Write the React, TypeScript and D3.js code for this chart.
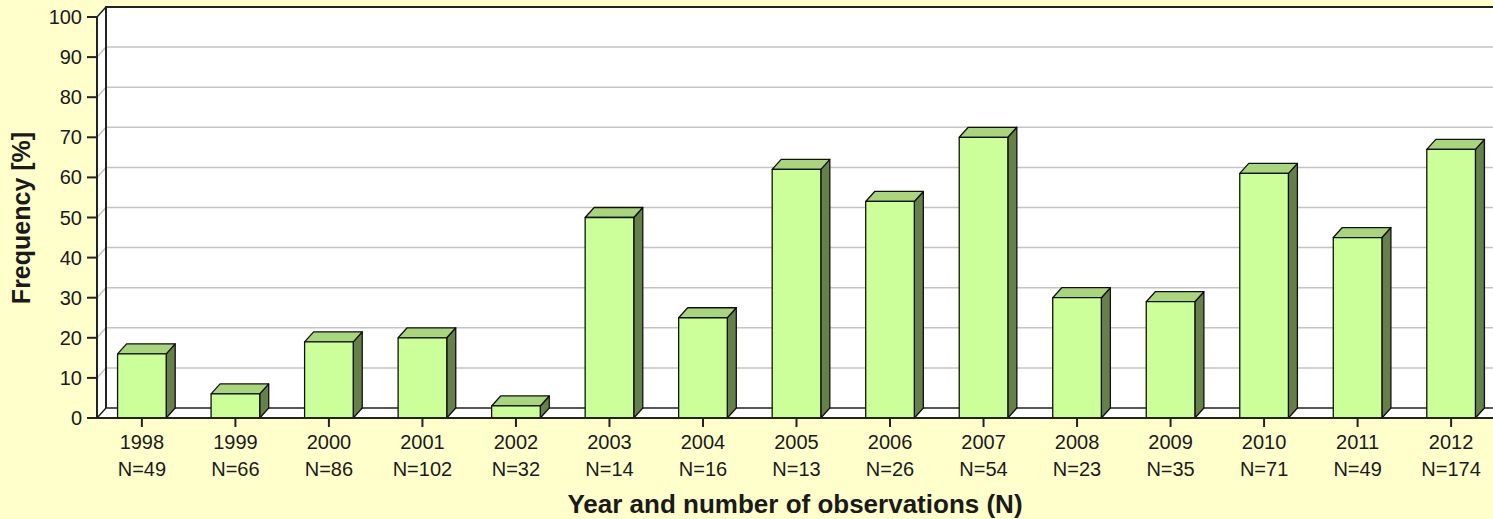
import React, { useEffect, useRef } from "react";
import * as d3 from "d3";

const years = ["1998", "1999", "2000", "2001", "2002", "2003", "2004", "2005", "2006", "2007", "2008", "2009", "2010", "2011", "2012"];
const counts = [49, 66, 86, 102, 32, 14, 16, 13, 26, 54, 23, 35, 71, 49, 174];
const frequency = [16, 6, 19, 20, 3, 50, 25, 62, 54, 70, 30, 29, 61, 45, 67];
const yTicks = [0, 10, 20, 30, 40, 50, 60, 70, 80, 90, 100];

const App = () => {
  const ref = useRef<SVGSVGElement>(null);
  const width = 1493;
  const height = 519;
  const margin = { left: 97, right: -3, top: 17, bottom: 101 };
  const dx = 9;
  const dy = 10;

  useEffect(() => {
    const svg = d3.select(ref.current);
    svg.selectAll("*").remove();

    const x = d3
      .scaleBand()
      .domain(years)
      .range([margin.left, width - margin.right])
      .paddingInner(0.48)
      .paddingOuter(0.22);

    const y = d3
      .scaleLinear()
      .domain([0, 100])
      .range([height - margin.bottom, margin.top]);

    const y0 = y(0);
    const xl = margin.left;
    const xr = width + 20;

    svg.append("rect").attr("width", width).attr("height", height).attr("fill", "#ffffcc");

    // back wall
    svg
      .append("rect")
      .attr("x", xl + dx)
      .attr("y", y(100) - dy)
      .attr("width", xr - xl - dx)
      .attr("height", y0 - y(100))
      .attr("fill", "#fff");

    // left wall
    svg
      .append("path")
      .attr("d", `M${xl},${y(100)}L${xl + dx},${y(100) - dy}L${xl + dx},${y0 - dy}L${xl},${y0}Z`)
      .attr("fill", "#fff")
      .attr("stroke", "none");

    // gridlines
    const grid = svg.append("g").attr("stroke", "#c4c4c4").attr("stroke-width", 1.5).attr("fill", "none");
    yTicks.slice(1, -1).forEach((t) => {
      grid.append("path").attr("d", `M${xl},${y(t)}L${xl + dx},${y(t) - dy}L${xr},${y(t) - dy}`);
    });

    // floor
    svg
      .append("path")
      .attr("d", `M${xl},${y0}L${xl + dx},${y0 - dy}L${xr},${y0 - dy}L${xr},${y0}Z`)
      .attr("fill", "#fff")
      .attr("stroke", "#222")
      .attr("stroke-width", 1.5);

    // wall outlines
    svg
      .append("path")
      .attr("d", `M${xl + dx},${y0 - dy}L${xl + dx},${y(100) - dy}L${xr},${y(100) - dy}`)
      .attr("fill", "none")
      .attr("stroke", "#222")
      .attr("stroke-width", 2);
    svg
      .append("path")
      .attr("d", `M${xl},${y(100)}L${xl + dx},${y(100) - dy}`)
      .attr("fill", "none")
      .attr("stroke", "#222")
      .attr("stroke-width", 1.5);

    // bars
    const bars = svg
      .append("g")
      .selectAll("g")
      .data(frequency)
      .enter()
      .append("g")
      .attr("stroke", "#111")
      .attr("stroke-width", 1.3)
      .attr("stroke-linejoin", "round");

    bars
      .append("path")
      .attr("fill", "#66804a")
      .attr("d", (d, i) => {
        const x1 = x(years[i])! + x.bandwidth();
        return `M${x1},${y(d)}L${x1 + dx},${y(d) - dy}L${x1 + dx},${y0 - dy}L${x1},${y0}Z`;
      });
    bars
      .append("path")
      .attr("fill", "#a9d67c")
      .attr("d", (d, i) => {
        const x0 = x(years[i])!;
        const x1 = x0 + x.bandwidth();
        return `M${x0},${y(d)}L${x0 + dx},${y(d) - dy}L${x1 + dx},${y(d) - dy}L${x1},${y(d)}Z`;
      });
    bars
      .append("rect")
      .attr("fill", "#ccff99")
      .attr("x", (d, i) => x(years[i])!)
      .attr("y", (d) => y(d))
      .attr("width", x.bandwidth())
      .attr("height", (d) => y0 - y(d));

    // front axes
    svg
      .append("line")
      .attr("x1", xl)
      .attr("x2", xl)
      .attr("y1", y(100))
      .attr("y2", y0)
      .attr("stroke", "#222")
      .attr("stroke-width", 2);
    svg
      .append("line")
      .attr("x1", xl)
      .attr("x2", xr)
      .attr("y1", y0)
      .attr("y2", y0)
      .attr("stroke", "#222")
      .attr("stroke-width", 2);

    const font = "'Liberation Sans', Arial, sans-serif";

    // y axis
    const yAxis = svg.append("g");
    yTicks.forEach((t) => {
      yAxis
        .append("line")
        .attr("x1", xl - 10)
        .attr("x2", xl)
        .attr("y1", y(t))
        .attr("y2", y(t))
        .attr("stroke", "#222")
        .attr("stroke-width", 2);
      yAxis
        .append("text")
        .attr("x", xl - 15)
        .attr("y", y(t) + 7)
        .attr("text-anchor", "end")
        .attr("font-family", font)
        .attr("font-size", 20)
        .attr("fill", "#1a1a1a")
        .text(t);
    });

    // x axis
    const xAxis = svg.append("g");
    years.forEach((yr, i) => {
      const cx = x(yr)! + x.bandwidth() / 2;
      xAxis
        .append("line")
        .attr("x1", cx)
        .attr("x2", cx)
        .attr("y1", y0)
        .attr("y2", y0 + 9)
        .attr("stroke", "#222")
        .attr("stroke-width", 2);
      xAxis
        .append("text")
        .attr("x", cx)
        .attr("y", 449)
        .attr("text-anchor", "middle")
        .attr("font-family", font)
        .attr("font-size", 20)
        .attr("fill", "#1a1a1a")
        .text(yr);
      xAxis
        .append("text")
        .attr("x", cx)
        .attr("y", 476)
        .attr("text-anchor", "middle")
        .attr("font-family", font)
        .attr("font-size", 20)
        .attr("fill", "#1a1a1a")
        .text(`N=${counts[i]}`);
    });

    svg
      .append("text")
      .attr("x", 795)
      .attr("y", 513)
      .attr("text-anchor", "middle")
      .attr("font-family", font)
      .attr("font-weight", "bold")
      .attr("font-size", 26)
      .attr("fill", "#1a1a1a")
      .text("Year and number of observations (N)");

    svg
      .append("text")
      .attr("transform", "translate(30,218) rotate(-90)")
      .attr("text-anchor", "middle")
      .attr("font-family", font)
      .attr("font-weight", "bold")
      .attr("font-size", 25)
      .attr("fill", "#1a1a1a")
      .text("Frequency [%]");
  });

  return (
    <div style={{ position: "fixed", left: 0, top: 0, width, height, overflow: "hidden" }}>
      <svg ref={ref} width={width} height={height} style={{ display: "block" }}></svg>
    </div>
  );
};

export default App;
